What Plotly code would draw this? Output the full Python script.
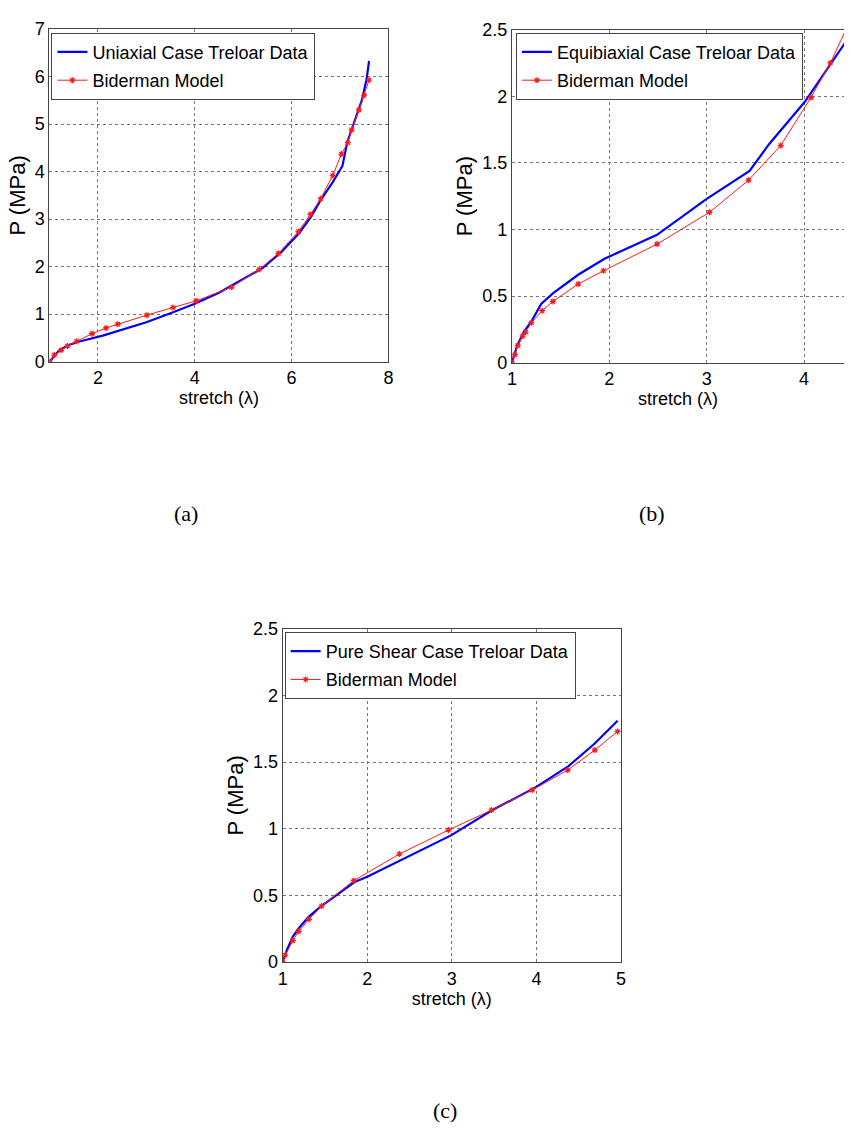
import plotly.graph_objects as go

W, H = 849, 1135

# ---------------- data ----------------
# (a) Uniaxial
uni_data_x = [1.0, 1.1, 1.2, 1.4, 1.6, 2.1, 3.0, 3.5, 4.0, 4.5, 4.8, 5.4, 5.8, 6.15, 6.4, 6.6, 6.85, 7.05, 7.15, 7.3, 7.45, 7.55, 7.6]
uni_data_y = [0.0, 0.12, 0.24, 0.35, 0.42, 0.55, 0.83, 1.02, 1.22, 1.45, 1.62, 1.97, 2.32, 2.70, 3.05, 3.40, 3.78, 4.12, 4.62, 5.05, 5.50, 5.95, 6.33]
uni_model_x = [1.0, 1.10, 1.24, 1.37, 1.56, 1.88, 2.17, 2.41, 3.01, 3.55, 4.03, 4.76, 5.33, 5.73, 6.14, 6.39, 6.60, 6.85, 7.03, 7.16, 7.24, 7.39, 7.50, 7.60]
uni_model_y = [0.0, 0.14, 0.24, 0.33, 0.43, 0.59, 0.71, 0.79, 0.98, 1.14, 1.28, 1.57, 1.94, 2.28, 2.74, 3.10, 3.43, 3.92, 4.37, 4.61, 4.88, 5.30, 5.61, 5.93]

# (b) Equibiaxial
equi_data_x = [1.0, 1.05, 1.12, 1.20, 1.30, 1.42, 1.68, 1.95, 2.49, 3.00, 3.44, 3.64, 4.01, 4.41, 4.55]
equi_data_y = [0.0, 0.12, 0.23, 0.31, 0.44, 0.52, 0.66, 0.78, 0.96, 1.23, 1.44, 1.64, 1.96, 2.39, 2.54]
equi_model_x = [1.0, 1.03, 1.06, 1.11, 1.14, 1.20, 1.31, 1.42, 1.68, 1.94, 2.49, 3.03, 3.43, 3.76, 4.07, 4.27, 4.48]
equi_model_y = [0.0, 0.06, 0.13, 0.20, 0.23, 0.30, 0.39, 0.46, 0.59, 0.69, 0.89, 1.13, 1.37, 1.63, 1.99, 2.25, 2.58]

# (c) Pure shear
ps_data_x = [1.0, 1.05, 1.12, 1.20, 1.31, 1.46, 1.85, 2.0, 2.99, 3.48, 3.99, 4.38, 4.69, 4.96]
ps_data_y = [0.0, 0.09, 0.19, 0.26, 0.34, 0.42, 0.60, 0.64, 0.95, 1.14, 1.31, 1.47, 1.64, 1.81]
ps_model_x = [1.0, 1.03, 1.12, 1.19, 1.31, 1.46, 1.84, 2.38, 2.96, 3.47, 3.95, 4.37, 4.69, 4.96]
ps_model_y = [0.0, 0.05, 0.16, 0.23, 0.32, 0.42, 0.61, 0.81, 0.99, 1.14, 1.29, 1.44, 1.59, 1.73]

data_names = ["Uniaxial Case Treloar Data", "Equibiaxial Case Treloar Data", "Pure Shear Case Treloar Data"]
model_name = "Biderman Model"
x_title = "stretch (λ)"
y_title = "P (MPa)"
captions = ["(a)", "(b)", "(c)"]

# ---------------- styles ----------------
FONT = "Liberation Sans, Arial, sans-serif"
BLUE = "#0000ff"
RED = "#ff1a1a"

def px_x(p):
    return p / W

def px_y(p):
    return 1 - p / H

fig = go.Figure()

panels = [
    (uni_data_x, uni_data_y, uni_model_x, uni_model_y, "x", "y", "legend"),
    (equi_data_x, equi_data_y, equi_model_x, equi_model_y, "x2", "y2", "legend2"),
    (ps_data_x, ps_data_y, ps_model_x, ps_model_y, "x3", "y3", "legend3"),
]
for i, (dx, dy, mx, my, xa, ya, lg) in enumerate(panels):
    fig.add_trace(go.Scatter(x=dx, y=dy, mode="lines", name=data_names[i],
                             line=dict(color=BLUE, width=2.2), xaxis=xa, yaxis=ya,
                             legend=lg, legendgroup=f"d{i}"))
    fig.add_trace(go.Scatter(x=mx, y=my, mode="lines+markers", name=model_name,
                             line=dict(color=RED, width=1),
                             marker=dict(symbol="asterisk-open", size=5, color=RED,
                                         line=dict(color=RED, width=1.2)),
                             xaxis=xa, yaxis=ya, legend=lg, legendgroup=f"m{i}"))

axis_common = dict(
    showline=True, linecolor="#444444", linewidth=1, mirror=True,
    showgrid=True, gridcolor="#777777", gridwidth=1, griddash="dot",
    zeroline=False, ticks="", tickfont=dict(family=FONT, size=18, color="black"),
)

def xaxis(dom, rng, dtick, anchor):
    return dict(axis_common, domain=dom, range=rng, dtick=dtick, tick0=0, anchor=anchor,
                title=dict(text=x_title, font=dict(family=FONT, size=18, color="black"), standoff=3))

def yaxis(dom, rng, dtick, anchor, mirror=True):
    d = dict(axis_common, domain=dom, range=rng, dtick=dtick, tick0=0, anchor=anchor,
             title=dict(text=y_title, font=dict(family=FONT, size=22, color="black"), standoff=3))
    d["mirror"] = mirror
    return d

# panel pixel boxes (left, right, top, bottom)
A = (45, 388, 19.5, 358)
B = (513, 849, 20, 359)
C = (281, 623.3, 630, 969)

fig.update_layout(
    width=W, height=H, margin=dict(l=0, r=0, t=0, b=0),
    paper_bgcolor="white", plot_bgcolor="white",
    xaxis=xaxis([px_x(A[0]), px_x(A[1])], [1, 8], 2, "y"),
    yaxis=yaxis([px_y(A[3]), px_y(A[2])], [0, 7], 1, "x"),
    xaxis2=xaxis([px_x(B[0]), 1.0], [1, 4.41], 1, "y2"),
    yaxis2=yaxis([px_y(B[3]), px_y(B[2])], [0, 2.5], 0.5, "x2", mirror=False),
    xaxis3=xaxis([px_x(C[0]), px_x(C[1])], [1, 5], 1, "y3"),
    yaxis3=yaxis([px_y(C[3]), px_y(C[2])], [0, 2.5], 0.5, "x3"),
    showlegend=True,
)

leg_common = dict(bgcolor="white", bordercolor="#444444", borderwidth=1,
                  font=dict(family=FONT, size=18, color="black"),
                  xanchor="left", yanchor="top", itemwidth=30,
                  traceorder="grouped", tracegroupgap=2)
fig.update_layout(
    legend=dict(leg_common, x=px_x(47), y=px_y(23)),
    legend2=dict(leg_common, x=px_x(517), y=px_y(23)),
    legend3=dict(leg_common, x=px_x(283), y=px_y(633)),
)

cap_pos = [(183, 513), (655, 513), (445, 1120)]
for t, (cx, cy) in zip(captions, cap_pos):
    fig.add_annotation(text=t, x=px_x(cx), y=px_y(cy), xref="paper", yref="paper",
                       showarrow=False, xanchor="center", yanchor="middle",
                       font=dict(family="Liberation Serif, Times New Roman, serif", size=22, color="black"))

fig.write_html("out.html")
